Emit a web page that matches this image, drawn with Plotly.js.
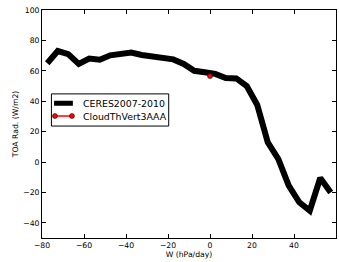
<!DOCTYPE html>
<html>
<head>
<meta charset="utf-8">
<script src="https://cdn.plot.ly/plotly-3.0.1.min.js"></script>
<style>html,body{margin:0;padding:0;background:#fff;}#chart{width:339px;height:262px;}</style>
</head>
<body>
<div id="chart"></div>
<script>
const omega = [-77.5,-72.5,-67.5,-62.5,-57.5,-52.5,-47.5,-42.5,-37.5,-32.5,-27.5,-22.5,-17.5,-12.5,-7.5,-2.5,2.5,7.5,12.5,17.5,22.5,27.5,32.5,37.5,42.5,47.5,52.5,57.5];
const ceres = [65,73,71,64.5,68,67.3,70.2,70.8,72,70.4,69.5,68.2,67.5,64.5,60,59,58,55.3,55,50,37.5,13,2,-15.5,-26.5,-32,-10.5,-20];
const modelX = [0];
const modelY = [56.5];
const seriesNames = ['CERES2007-2010', 'CloudThVert3AAA'];

const traces = [
  {x: omega, y: ceres, mode: 'lines', name: seriesNames[0],
   line: {color: '#000', width: 6}, showlegend: false},
  {x: modelX, y: modelY, mode: 'lines+markers', name: seriesNames[1],
   line: {color: 'red', width: 1.5},
   marker: {color: 'red', size: 5, line: {color: '#000', width: 0.5}}, showlegend: false}
];
const FONT = 'DejaVu Sans';
const axisCommon = {showgrid: false, zeroline: false, showline: true, mirror: 'ticks',
  linecolor: '#000', linewidth: 1, ticks: 'inside', ticklen: 4, tickcolor: '#000',
  tickfont: {family: FONT, size: 7.7, color: '#000'}};

// legend (drawn as shapes + text, matplotlib style)
const lg = {x0: 0.032, x1: 0.431, y0: 0.491, y1: 0.632, sx0: 0.041, sx1: 0.105, tx: 0.134, rows: [0.591, 0.535]};
const shapes = [
  {type: 'rect', xref: 'paper', yref: 'paper', x0: lg.x0, x1: lg.x1, y0: lg.y0, y1: lg.y1,
   line: {color: '#000', width: 1}, fillcolor: '#fff', layer: 'above'},
  {type: 'line', xref: 'paper', yref: 'paper', x0: lg.sx0, x1: lg.sx1, y0: lg.rows[0], y1: lg.rows[0],
   line: {color: '#000', width: 5}, layer: 'above'},
  {type: 'line', xref: 'paper', yref: 'paper', x0: lg.sx0, x1: lg.sx1, y0: lg.rows[1], y1: lg.rows[1],
   line: {color: 'red', width: 1.5}, layer: 'above'}
];
[lg.sx0 + 0.003, lg.sx1 - 0.003].forEach(function (cx) {
  shapes.push({type: 'circle', xref: 'paper', yref: 'paper', xsizemode: 'pixel', ysizemode: 'pixel',
    xanchor: cx, yanchor: lg.rows[1], x0: -2.5, x1: 2.5, y0: -2.5, y1: 2.5,
    fillcolor: 'red', line: {color: '#000', width: 0.5}, layer: 'above'});
});
const annotations = seriesNames.map(function (n, i) {
  return {xref: 'paper', yref: 'paper', x: lg.tx, y: lg.rows[i], xanchor: 'left', yanchor: 'middle',
    text: n, showarrow: false, font: {family: FONT, size: 9.4, color: '#000'}};
});

const layout = {
  width: 339, height: 262,
  margin: {l: 42, r: 3, t: 10, b: 24},
  paper_bgcolor: '#fff', plot_bgcolor: '#fff',
  showlegend: false,
  shapes: shapes, annotations: annotations,
  xaxis: Object.assign({}, axisCommon, {range: [-80, 60], dtick: 20, tick0: -80,
    title: {text: 'W (hPa/day)', font: {family: FONT, size: 7.7, color: '#000'}, standoff: 2}}),
  yaxis: Object.assign({}, axisCommon, {range: [-50, 100], dtick: 20, tick0: -40, automargin: true,
    title: {text: 'TOA Rad. (W/m2)', font: {family: FONT, size: 7.7, color: '#000'}, standoff: 3}})
};
Plotly.newPlot('chart', traces, layout, {displayModeBar: false, staticPlot: true});
</script>
</body>
</html>
